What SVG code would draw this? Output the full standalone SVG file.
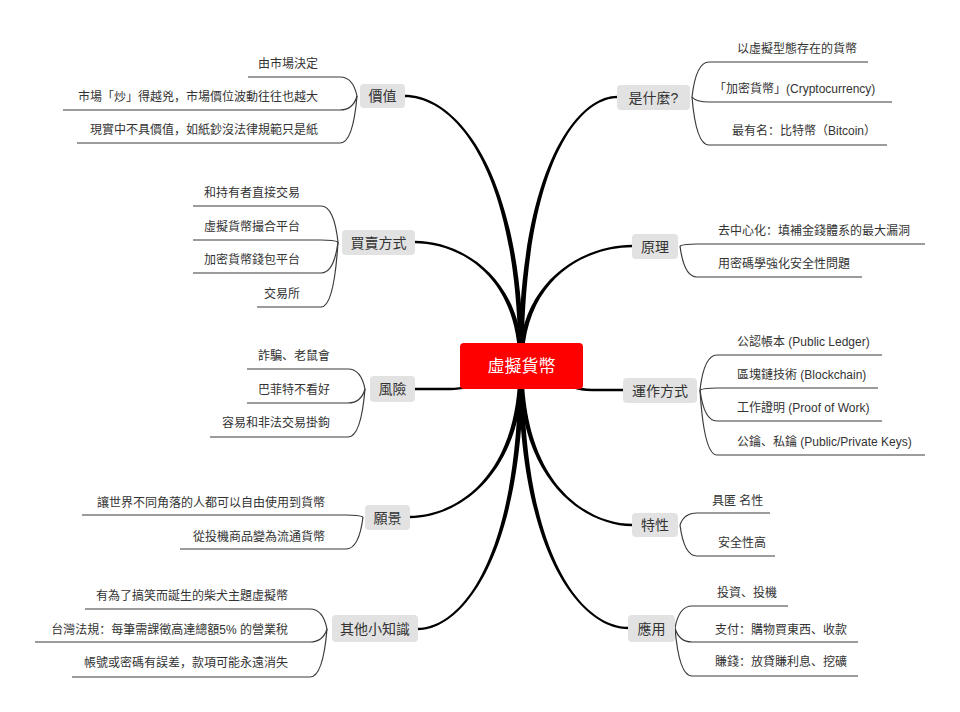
<svg xmlns="http://www.w3.org/2000/svg" width="960" height="712" viewBox="0 0 960 712">
<style>
text{font-family:"Liberation Sans","Noto Sans CJK SC",sans-serif;}
.leaf{font-size:12px;fill:#333;}
.l{text-anchor:end;}
.br rect{fill:#e2e2e2;}
.br text{font-size:14px;fill:#333;text-anchor:middle;}
.main{fill:#000;}
.lc{fill:none;stroke:#3a3a3a;stroke-width:1.2;}
.ul{stroke:#3a3a3a;stroke-width:1.2;}
</style>
<rect width="960" height="712" fill="#fff"/>
<g id="connectors">
<path class="main" d="M523.5,366 C523.5,163 452,94.8 405,94.8 L405,97.2 C452,97.2 518.5,163 518.5,366 Z"/>
<path class="main" d="M518.5,366 C518.5,164 579,95.8 617,95.8 L617,98.2 C579,98.2 523.5,164 523.5,366 Z"/>
<path class="main" d="M523.5,366 C523.5,273 457,240.8 415,240.8 L415,243.2 C457,243.2 518.5,273 518.5,366 Z"/>
<path class="main" d="M518.5,366 C518.5,276 588,244.8 632,244.8 L632,247.2 C588,247.2 523.5,276 523.5,366 Z"/>
<path class="main" d="M521,367 C490,367 480,387.8 450,387.8 L415,387.8 L415,390.2 L450,390.2 C480,390.2 490,373 521,373 Z"/>
<path class="main" d="M521,367 C552,367 562,388.8 592,388.8 L623,388.8 L623,391.2 L592,391.2 C562,391.2 552,373 521,373 Z"/>
<path class="main" d="M523.5,366 C523.5,479 454,518.2 410,518.2 L410,515.8 C454,515.8 518.5,479 518.5,366 Z"/>
<path class="main" d="M518.5,366 C518.5,485 588,526.2 632,526.2 L632,523.8 C588,523.8 523.5,485 523.5,366 Z"/>
<path class="main" d="M523.5,366 C523.5,563 459,630.2 418,630.2 L418,627.8 C459,627.8 518.5,563 518.5,366 Z"/>
<path class="main" d="M518.5,366 C518.5,562 585,629.2 628,629.2 L628,626.8 C585,626.8 523.5,562 523.5,366 Z"/>
<path class="lc" d="M357,96 Q353,77 340,77"/>
<path class="lc" d="M357,96 Q353,110 340,110"/>
<path class="lc" d="M357,96 Q353,143 340,143"/>
<path class="lc" d="M338,242 Q334,206 321,206"/>
<path class="lc" d="M338,242 Q334,240 321,240"/>
<path class="lc" d="M338,242 Q334,273 321,273"/>
<path class="lc" d="M338,242 Q334,307 321,307"/>
<path class="lc" d="M365,389 Q361,369 348,369"/>
<path class="lc" d="M365,389 Q361,403 348,403"/>
<path class="lc" d="M365,389 Q361,437 348,437"/>
<path class="lc" d="M363,517 Q359,515 346,515"/>
<path class="lc" d="M363,517 Q359,549 346,549"/>
<path class="lc" d="M327,629 Q323,609 310,609"/>
<path class="lc" d="M327,629 Q323,642 310,642"/>
<path class="lc" d="M327,629 Q323,677 310,677"/>
<path class="lc" d="M692,97 Q696,62 709,62"/>
<path class="lc" d="M692,97 Q696,102 709,102"/>
<path class="lc" d="M692,97 Q696,145 709,145"/>
<path class="lc" d="M680,246 Q684,244 697,244"/>
<path class="lc" d="M680,246 Q684,277 697,277"/>
<path class="lc" d="M700,390 Q704,355 717,355"/>
<path class="lc" d="M700,390 Q704,388 717,388"/>
<path class="lc" d="M700,390 Q704,421 717,421"/>
<path class="lc" d="M700,390 Q704,455 717,455"/>
<path class="lc" d="M680,525 Q684,513 697,513"/>
<path class="lc" d="M680,525 Q684,556 697,556"/>
<path class="lc" d="M675,628 Q679,606 692,606"/>
<path class="lc" d="M675,628 Q679,642 692,642"/>
<path class="lc" d="M675,628 Q679,676 692,676"/>
</g>
<g id="center">
<rect x="460" y="343" width="123" height="46" rx="4" fill="#ff0000"/>
<text x="521.5" y="372" font-size="17" fill="#fff" text-anchor="middle">虛擬貨幣</text>
</g>
<g id="n-value" class="br"><rect x="360" y="84" width="45" height="24" rx="4"/><text x="382.5" y="101">價值</text></g>
<g id="n-what" class="br"><rect x="617" y="85" width="73" height="25" rx="4"/><text x="653.5" y="102.5">是什麼?</text></g>
<g id="n-trade" class="br"><rect x="342" y="230" width="73" height="25" rx="4"/><text x="378.5" y="247.5">買賣方式</text></g>
<g id="n-principle" class="br"><rect x="632" y="234" width="46" height="25" rx="4"/><text x="655" y="251.5">原理</text></g>
<g id="n-risk" class="br"><rect x="370" y="376" width="45" height="26" rx="4"/><text x="392.5" y="394">風險</text></g>
<g id="n-operation" class="br"><rect x="623" y="378" width="74" height="25" rx="4"/><text x="660" y="395.5">運作方式</text></g>
<g id="n-vision" class="br"><rect x="365" y="505" width="45" height="25" rx="4"/><text x="387.5" y="522.5">願景</text></g>
<g id="n-feature" class="br"><rect x="632" y="513" width="46" height="24" rx="4"/><text x="655" y="530">特性</text></g>
<g id="n-trivia" class="br"><rect x="332" y="615" width="86" height="27" rx="4"/><text x="375" y="633.5">其他小知識</text></g>
<g id="n-use" class="br"><rect x="628" y="615" width="47" height="27" rx="4"/><text x="651.5" y="633.5">應用</text></g>

<g id="leaf-value-1"><line class="ul" x1="248" y1="77" x2="340" y2="77"/><text class="leaf l" x="318" y="68">由市場決定</text></g>
<g id="leaf-value-2"><line class="ul" x1="63" y1="110" x2="340" y2="110"/><text class="leaf l" x="318" y="101">市場「炒」得越兇，市場價位波動往往也越大</text></g>
<g id="leaf-value-3"><line class="ul" x1="77" y1="143" x2="340" y2="143"/><text class="leaf l" x="318" y="134">現實中不具價值，如紙鈔沒法律規範只是紙</text></g>

<g id="leaf-trade-1"><line class="ul" x1="193" y1="206" x2="321" y2="206"/><text class="leaf l" x="300" y="197">和持有者直接交易</text></g>
<g id="leaf-trade-2"><line class="ul" x1="193" y1="240" x2="321" y2="240"/><text class="leaf l" x="300" y="231">虛擬貨幣撮合平台</text></g>
<g id="leaf-trade-3"><line class="ul" x1="193" y1="273" x2="321" y2="273"/><text class="leaf l" x="300" y="264">加密貨幣錢包平台</text></g>
<g id="leaf-trade-4"><line class="ul" x1="257" y1="307" x2="321" y2="307"/><text class="leaf l" x="300" y="298">交易所</text></g>

<g id="leaf-risk-1"><line class="ul" x1="247" y1="369" x2="348" y2="369"/><text class="leaf l" x="330" y="360">詐騙、老鼠會</text></g>
<g id="leaf-risk-2"><line class="ul" x1="247" y1="403" x2="348" y2="403"/><text class="leaf l" x="330" y="394">巴菲特不看好</text></g>
<g id="leaf-risk-3"><line class="ul" x1="210" y1="437" x2="348" y2="437"/><text class="leaf l" x="330" y="427">容易和非法交易掛鉤</text></g>

<g id="leaf-vision-1"><line class="ul" x1="82" y1="515" x2="346" y2="515"/><text class="leaf l" x="325" y="507">讓世界不同角落的人都可以自由使用到貨幣</text></g>
<g id="leaf-vision-2"><line class="ul" x1="180" y1="549" x2="346" y2="549"/><text class="leaf l" x="325" y="541">從投機商品變為流通貨幣</text></g>

<g id="leaf-trivia-1"><line class="ul" x1="85" y1="609" x2="310" y2="609"/><text class="leaf l" x="288" y="600">有為了搞笑而誕生的柴犬主題虛擬幣</text></g>
<g id="leaf-trivia-2"><line class="ul" x1="35" y1="642" x2="310" y2="642"/><text class="leaf l" x="288" y="634">台灣法規：每筆需課徵高達總額5% 的營業稅</text></g>
<g id="leaf-trivia-3"><line class="ul" x1="72" y1="677" x2="310" y2="677"/><text class="leaf l" x="288" y="667">帳號或密碼有誤差，款項可能永遠消失</text></g>

<g id="leaf-what-1"><line class="ul" x1="709" y1="62" x2="868" y2="62"/><text class="leaf" x="737" y="53">以虛擬型態存在的貨幣</text></g>
<g id="leaf-what-2"><line class="ul" x1="709" y1="102" x2="892" y2="102"/><text class="leaf" x="714" y="93">「加密貨幣」(Cryptocurrency)</text></g>
<g id="leaf-what-3"><line class="ul" x1="709" y1="145" x2="887" y2="145"/><text class="leaf" x="732" y="135">最有名：比特幣（Bitcoin）</text></g>

<g id="leaf-principle-1"><line class="ul" x1="697" y1="244" x2="925" y2="244"/><text class="leaf" x="718" y="235">去中心化：填補金錢體系的最大漏洞</text></g>
<g id="leaf-principle-2"><line class="ul" x1="697" y1="277" x2="862" y2="277"/><text class="leaf" x="718" y="268">用密碼學強化安全性問題</text></g>

<g id="leaf-op-1"><line class="ul" x1="717" y1="355" x2="882" y2="355"/><text class="leaf" x="737" y="346">公認帳本 (Public Ledger)</text></g>
<g id="leaf-op-2"><line class="ul" x1="717" y1="388" x2="878" y2="388"/><text class="leaf" x="737" y="379">區塊鏈技術 (Blockchain)</text></g>
<g id="leaf-op-3"><line class="ul" x1="717" y1="421" x2="882" y2="421"/><text class="leaf" x="737" y="412">工作證明 (Proof of Work)</text></g>
<g id="leaf-op-4"><line class="ul" x1="717" y1="455" x2="925" y2="455"/><text class="leaf" x="737" y="446">公鑰、私鑰 (Public/Private Keys)</text></g>

<g id="leaf-feature-1"><line class="ul" x1="697" y1="513" x2="770" y2="513"/><text class="leaf" x="712" y="505">具匿 名性</text></g>
<g id="leaf-feature-2"><line class="ul" x1="697" y1="556" x2="775" y2="556"/><text class="leaf" x="718" y="547">安全性高</text></g>

<g id="leaf-use-1"><line class="ul" x1="692" y1="606" x2="788" y2="606"/><text class="leaf" x="717" y="597">投資、投機</text></g>
<g id="leaf-use-2"><line class="ul" x1="692" y1="642" x2="858" y2="642"/><text class="leaf" x="715" y="634">支付：購物買東西、收款</text></g>
<g id="leaf-use-3"><line class="ul" x1="692" y1="676" x2="858" y2="676"/><text class="leaf" x="715" y="666">賺錢：放貸賺利息、挖礦</text></g>
</svg>
